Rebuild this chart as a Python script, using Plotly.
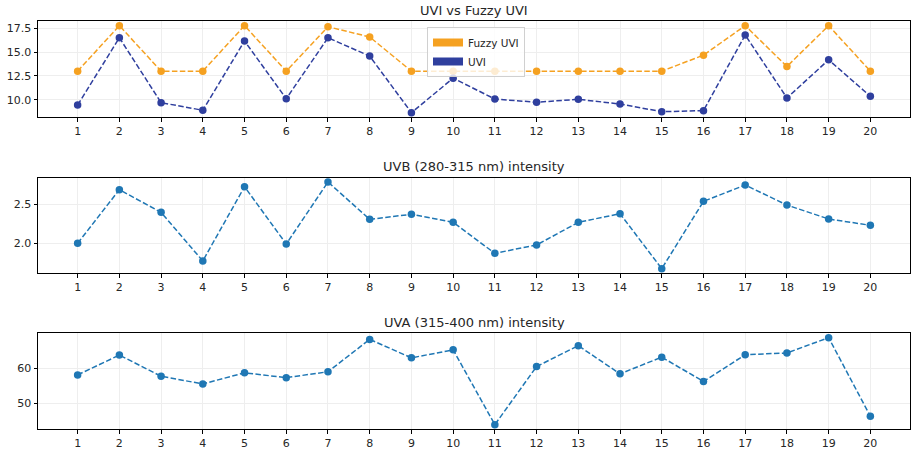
import plotly.graph_objects as go

# ---- data ----
samples = list(range(1, 21))
fuzzy_uvi = [13.0, 17.78, 13.0, 13.0, 17.78, 13.0, 17.67, 16.59, 13.0, 13.0,
             13.0, 13.0, 13.0, 13.0, 13.0, 14.68, 17.78, 13.49, 17.78, 13.0]
uvi = [9.44, 16.51, 9.69, 8.89, 16.17, 10.1, 16.51, 14.58, 8.64, 12.26,
       10.07, 9.73, 10.04, 9.55, 8.74, 8.85, 16.8, 10.18, 14.19, 10.36]
uvb = [2.0, 2.688, 2.397, 1.774, 2.726, 1.991, 2.786, 2.308, 2.372, 2.269,
       1.872, 1.979, 2.269, 2.38, 1.675, 2.538, 2.748, 2.491, 2.312, 2.231]
uva = [58.1, 63.8, 57.7, 55.5, 58.7, 57.3, 59.0, 68.3, 63.0, 65.3,
       43.8, 60.5, 66.5, 58.4, 63.2, 56.2, 63.9, 64.4, 68.8, 46.2]

titles = ["UVI vs Fuzzy UVI", "UVB (280-315 nm) intensity", "UVA (315-400 nm) intensity"]
ytick_sets = [[10, 12.5, 15, 17.5], [2.0, 2.5], [50, 60]]

ORANGE = "#f5a121"
NAVY = "#2f3f9e"
MPLBLUE = "#1f77b4"

W, H = 911, 452
x_dom = [38 / W, 910 / W]
y_doms = [[1 - 117 / H, 1 - 21.3 / H],
          [1 - 273 / H, 1 - 177.7 / H],
          [1 - 429 / H, 1 - 333.3 / H]]
title_y = [1 - 10 / H, 1 - 166 / H, 1 - 322 / H]

def mrange(vals_list):
    lo = min(min(v) for v in vals_list)
    hi = max(max(v) for v in vals_list)
    m = (hi - lo) * 0.05
    return [lo - m, hi + m]

fig = go.Figure()

dash = "5.5px,2.4px"

def add_series(y, color, axis_idx):
    suffix = "" if axis_idx == 1 else str(axis_idx)
    fig.add_trace(go.Scatter(
        x=samples, y=y, mode="lines+markers",
        line=dict(color=color, width=1.5, dash=dash),
        marker=dict(color=color, size=7.5),
        xaxis="x" + suffix, yaxis="y" + suffix, showlegend=False,
        hoverinfo="x+y"))

add_series(fuzzy_uvi, ORANGE, 1)
add_series(uvi, NAVY, 1)
add_series(uvb, MPLBLUE, 2)
add_series(uva, MPLBLUE, 3)

# legend patches
for name, color in [("Fuzzy UVI", ORANGE), ("UVI", NAVY)]:
    fig.add_trace(go.Scatter(x=[None], y=[None], mode="lines", name=name,
                             line=dict(color=color, width=8),
                             xaxis="x", yaxis="y", showlegend=True))

ranges = [mrange([fuzzy_uvi, uvi]), mrange([uvb]), mrange([uva])]
fmt = [".1f", ".1f", "d"]

layout = dict(
    width=W, height=H,
    margin=dict(l=0, r=0, t=0, b=0),
    paper_bgcolor="white", plot_bgcolor="white",
    font=dict(family="DejaVu Sans", size=11, color="#262626"),
    showlegend=True,
    legend=dict(x=427 / W, y=1 - 27 / H, xanchor="left", yanchor="top",
                bgcolor="rgba(255,255,255,0.8)", bordercolor="#d0d0d0", borderwidth=1,
                font=dict(size=10.5, color="#262626"), tracegroupgap=0,
                itemwidth=30),
    annotations=[],
)

for i in range(3):
    suffix = "" if i == 0 else str(i + 1)
    layout["xaxis" + suffix] = dict(
        domain=x_dom, anchor="y" + suffix, range=[0.05, 20.95],
        tickmode="array", tickvals=samples, ticktext=[str(s) for s in samples],
        showgrid=True, gridcolor="#eeeeee", gridwidth=0.8,
        showline=True, linecolor="black", linewidth=1, mirror=True,
        ticks="outside", ticklen=3.5, tickcolor="black", tickwidth=0.8,
        zeroline=False, tickfont=dict(size=11))
    layout["yaxis" + suffix] = dict(
        domain=y_doms[i], anchor="x" + suffix, range=ranges[i],
        tickmode="array", tickvals=ytick_sets[i],
        tickformat=fmt[i],
        showgrid=True, gridcolor="#eeeeee", gridwidth=0.8,
        showline=True, linecolor="black", linewidth=1, mirror=True,
        ticks="outside", ticklen=3.5, tickcolor="black", tickwidth=0.8,
        zeroline=False, tickfont=dict(size=11))
    layout["annotations"].append(dict(
        text=titles[i], x=(x_dom[0] + x_dom[1]) / 2, y=title_y[i],
        xref="paper", yref="paper", xanchor="center", yanchor="middle",
        showarrow=False, font=dict(size=13, color="#262626")))

fig.update_layout(**layout)
fig.write_html("out.html", config={"displayModeBar": False},
               post_script="document.body.style.margin='0';document.body.style.overflow='hidden';")
